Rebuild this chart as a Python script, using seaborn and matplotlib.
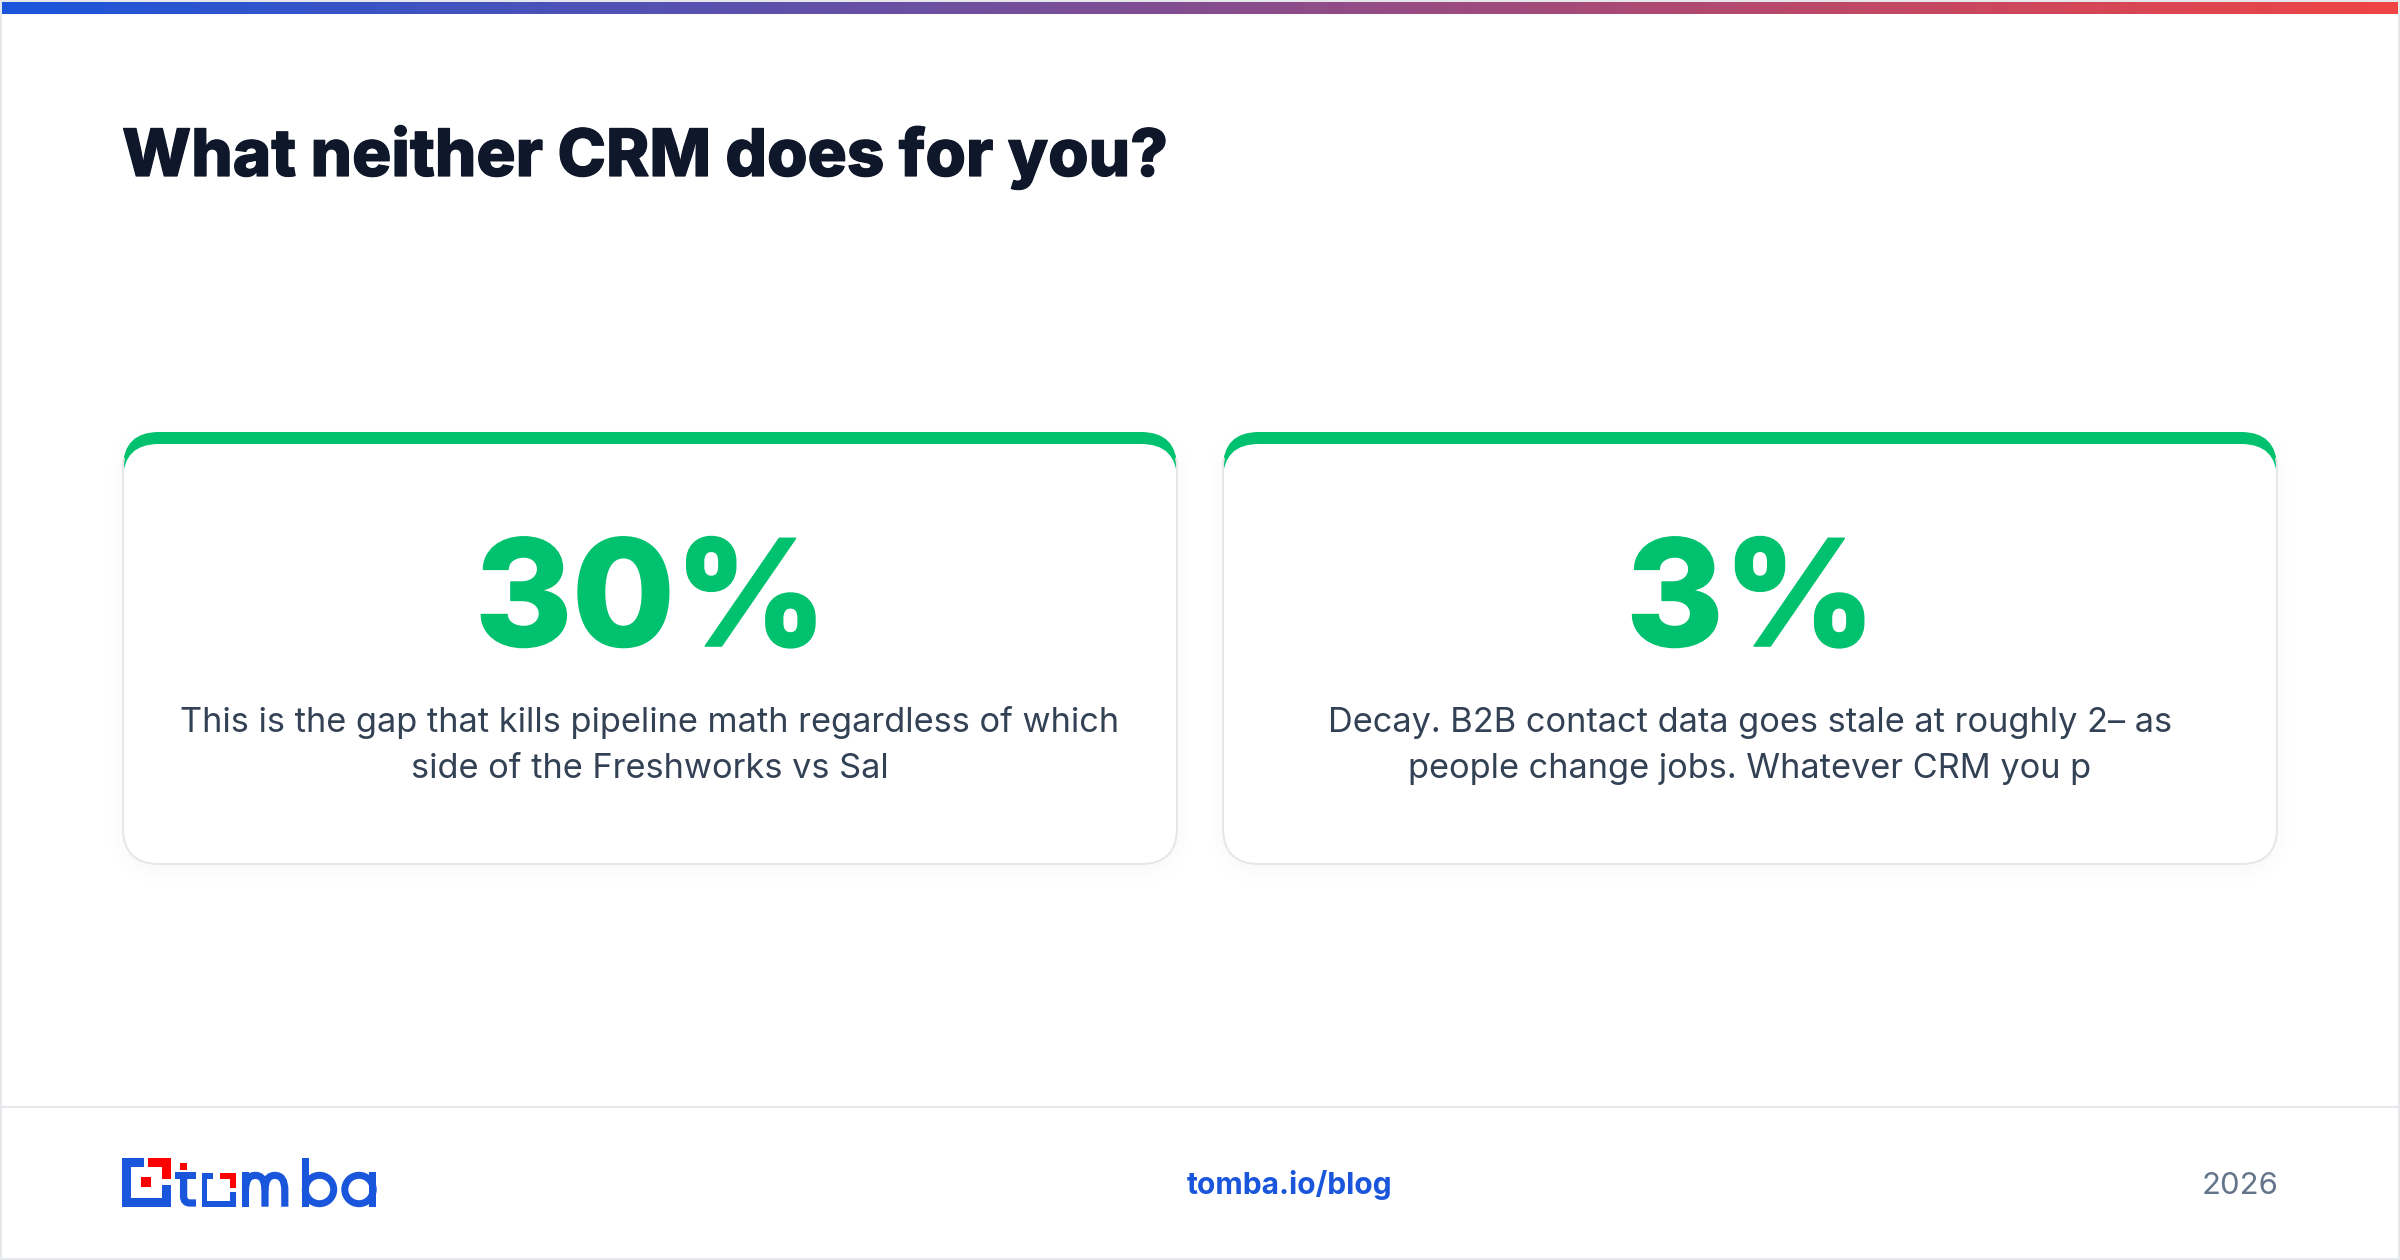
import matplotlib
matplotlib.use('Agg')
import matplotlib.pyplot as plt
import matplotlib.patheffects as pe
from matplotlib.colors import LinearSegmentedColormap
from matplotlib.patches import Circle, FancyBboxPatch, PathPatch, Rectangle
from matplotlib.path import Path
import numpy as np
import seaborn as sns

title = 'What neither CRM does for you?'
stat_labels = ['30%', '3%']
stat_texts = [
    ['This is the gap that kills pipeline math regardless of which',
     'side of the Freshworks vs Sal'],
    ['Decay. B2B contact data goes stale at roughly 2\u2013 as',
     'people change jobs. Whatever CRM you p'],
]
footer_link = 'tomba.io/blog'
footer_year = '2026'

BLUE = '#1a56db'
RED = '#ff0000'
GREEN = '#00c16e'
BORDER = '#e5e7eb'
DPI = 100
W, H = 2400, 1260
CARD_TOP, CARD_BOTTOM, CARD_W, RADIUS = 432, 864, 1054, 36
card_left = [123, 1223]


def px(size):
    return size * 72 / DPI


def rounded(ax, x0, y0, x1, y1, r, **kw):
    patch = FancyBboxPatch((x0 + r, y0 + r), x1 - x0 - 2 * r, y1 - y0 - 2 * r,
                           boxstyle=f'round,pad={r},rounding_size={r}', **kw)
    ax.add_patch(patch)
    return patch


def poly(ax, points, color, zorder=6):
    ax.add_patch(PathPatch(Path(points + points[:1]), fc=color, ec='none', zorder=zorder))


def card_shadow(left):
    # soft drop shadow, from the distance to the rounded card outline
    xx, yy = np.meshgrid(np.arange(W) + 0.5, np.arange(H) + 0.5)
    cx, cy = left + CARD_W / 2, (CARD_TOP + CARD_BOTTOM) / 2 + 6
    dx = np.abs(xx - cx) - (CARD_W / 2 - RADIUS)
    dy = np.abs(yy - cy) - ((CARD_BOTTOM - CARD_TOP) / 2 - RADIUS)
    dist = np.hypot(np.maximum(dx, 0), np.maximum(dy, 0)) + np.minimum(np.maximum(dx, dy), 0) - RADIUS
    return 0.028 * np.clip(1 - (dist + 6) / 32, 0, 1) ** 2


sns.set_theme(style='white')
plt.rcParams['font.family'] = ['Inter', 'DejaVu Sans']

fig = plt.figure(figsize=(24, 12.6), dpi=DPI, facecolor='white')
ax = fig.add_axes([0, 0, 1, 1])
ax.set_axis_off()

# frame + top gradient bar
ax.add_patch(Rectangle((1, 1), W - 2, H - 2, fc='white', ec=BORDER, lw=px(2), zorder=0))
cmap = LinearSegmentedColormap.from_list('bar', [BLUE, '#ef4444'])
ax.imshow(np.linspace(0, 1, 512).reshape(1, -1), cmap=cmap, aspect='auto',
          extent=(2, W - 2, 14, 2), zorder=3)

shadow = np.zeros((H, W, 4))
shadow[..., :3] = matplotlib.colors.to_rgb('#0f172a')
shadow[..., 3] = sum(card_shadow(left) for left in card_left)
ax.imshow(shadow, aspect='auto', extent=(0, W, H, 0), zorder=1, interpolation='nearest')

ax.set_xlim(0, W)
ax.set_ylim(H, 0)

title_text = ax.text(122, 176, title, fontsize=px(65.4), fontweight='extra bold', color='#0f172a', va='baseline')
title_text.set_path_effects([pe.withStroke(linewidth=px(1.2), foreground='#0f172a')])

for left, label, lines in zip(card_left, stat_labels, stat_texts):
    right = left + CARD_W
    rounded(ax, left, CARD_TOP, right, CARD_BOTTOM, RADIUS, fc=GREEN, ec='none', zorder=2)
    rounded(ax, left, CARD_TOP + 12, right, CARD_BOTTOM, RADIUS, fc='white', ec='none', zorder=3)
    outline = rounded(ax, left, CARD_TOP, right, CARD_BOTTOM, RADIUS, fc='none', ec=BORDER,
                      lw=px(2), zorder=4)
    outline.set_clip_path(Rectangle((left - 3, CARD_TOP + 26), CARD_W + 6, 420, transform=ax.transData))
    cx = left + CARD_W / 2
    stat = ax.text(cx + 1, 646, label, ha='center', va='baseline', fontsize=px(148),
                   fontweight='extra bold', color=GREEN, zorder=5)
    stat.set_path_effects([pe.withStroke(linewidth=px(1.6), foreground=GREEN)])
    ax.text(cx, 732, lines[0], ha='center', va='baseline', fontsize=px(34.35), color='#334155', zorder=5)
    ax.text(cx, 778, lines[1], ha='center', va='baseline', fontsize=px(34.35), color='#334155', zorder=5)

# footer
ax.plot([2, W - 2], [1106.5, 1106.5], color=BORDER, lw=px(2))
ax.text(1289.5, 1194, footer_link, ha='center', va='baseline', fontsize=px(30),
        fontweight='bold', color=BLUE)
ax.text(2278, 1194, footer_year, ha='right', va='baseline', fontsize=px(31), color='#64748b')

# logo mark
poly(ax, [(122, 1158.3), (144, 1158.3), (144, 1166.7), (130.7, 1166.7), (130.7, 1197.7), (162.3, 1197.7),
          (162.3, 1185), (170.7, 1185), (170.7, 1206.7), (122, 1206.7)], BLUE)
poly(ax, [(148.3, 1158.3), (170.7, 1158.3), (170.7, 1179.3), (162.3, 1179.3), (162.3, 1166.7),
          (148.3, 1166.7)], RED)
ax.add_patch(Rectangle((141.3, 1177.3), 10, 9.7, fc=RED, ec='none', zorder=6))
ax.add_patch(Rectangle((180, 1162.7), 7.3, 7.3, fc=RED, ec='none', zorder=6))
# t
ax.add_patch(Rectangle((175, 1171.7), 21, 7.3, fc=BLUE, ec='none', zorder=6))
ax.add_patch(PathPatch(Path([(183.6, 1179), (183.6, 1196), (183.6, 1203), (190, 1203), (196, 1203)],
                            [Path.MOVETO, Path.LINETO, Path.CURVE3, Path.CURVE3, Path.LINETO]),
                       fc='none', ec=BLUE, lw=px(7.3), capstyle='butt', zorder=6))
# boxed o
poly(ax, [(201.7, 1172.7), (213.3, 1172.7), (213.3, 1178.7), (207.4, 1178.7), (207.4, 1200.7), (230, 1200.7),
          (230, 1191.7), (236, 1191.7), (236, 1206.7), (201.7, 1206.7)], BLUE)
poly(ax, [(220, 1172.7), (236, 1172.7), (236, 1188.3), (230, 1188.3), (230, 1178.7), (220, 1178.7)], RED)
# m
for x0, x1 in [(245.5, 265), (265, 284.8)]:
    ax.add_patch(PathPatch(Path([(x0, 1190), (x0, 1175.4), ((x0 + x1) / 2, 1175.4), (x1, 1175.4), (x1, 1190),
                                 (x1, 1206.7)],
                                [Path.MOVETO, Path.CURVE3, Path.CURVE3, Path.CURVE3, Path.CURVE3, Path.LINETO]),
                           fc='none', ec=BLUE, lw=px(7.2), capstyle='butt', zorder=6))
ax.add_patch(Rectangle((241.7, 1171.7), 7.4, 35, fc=BLUE, ec='none', zorder=6))
# b
ax.add_patch(Rectangle((301.7, 1158), 6.8, 48.7, fc=BLUE, ec='none', zorder=6))
ax.add_patch(Circle((319.5, 1189.5), 14.2, fc='none', ec=BLUE, lw=px(7), zorder=6))
# a
ax.add_patch(Rectangle((368.8, 1171.7), 7.2, 35, fc=BLUE, ec='none', zorder=6))
ax.add_patch(Circle((359, 1189.5), 14.2, fc='none', ec=BLUE, lw=px(7), zorder=6))

fig.savefig('out.png', dpi=DPI)
